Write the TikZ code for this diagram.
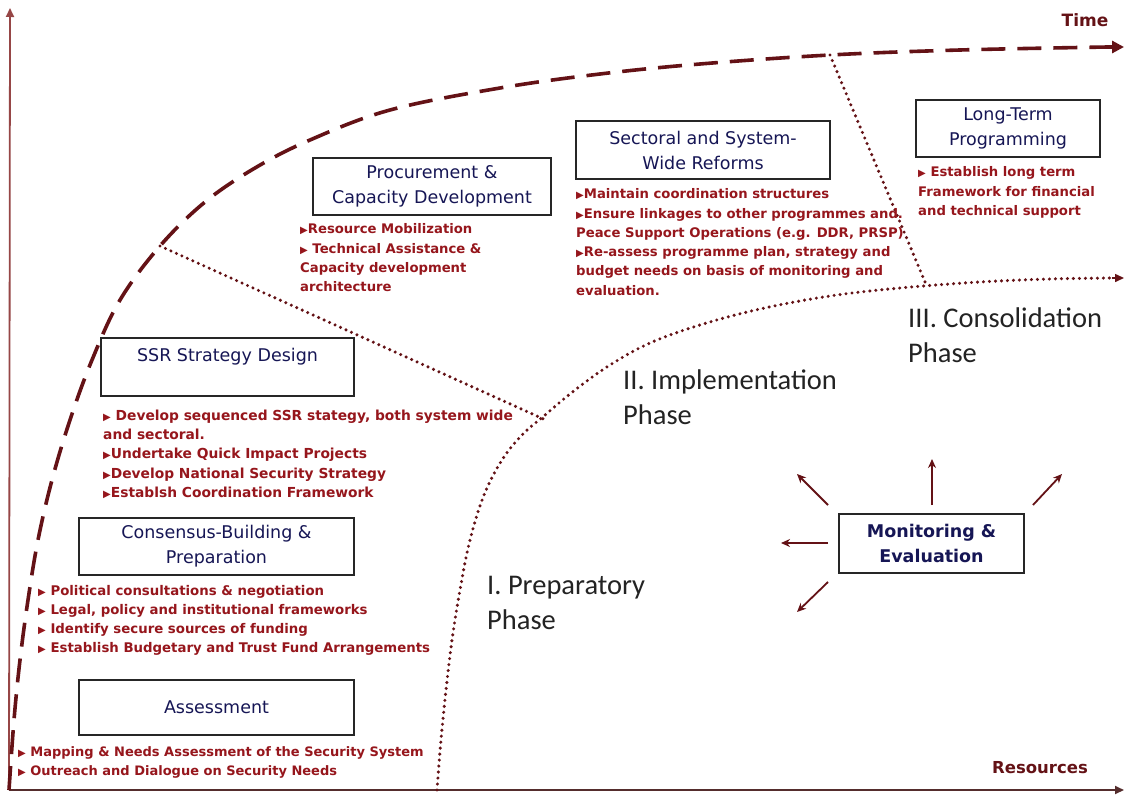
\documentclass[tikz,border=0pt]{standalone}
\usepackage{fontspec}
\setmainfont{DejaVu Sans}
\newfontfamily\calfont{Carlito}
\usetikzlibrary{arrows.meta}
\definecolor{curvecol}{RGB}{100,18,22}
\definecolor{redtext}{RGB}{150,22,28}
\definecolor{navytext}{RGB}{22,22,85}
\definecolor{phasecol}{RGB}{35,35,35}
\definecolor{vaxis}{RGB}{150,70,70}
\definecolor{haxis}{RGB}{85,45,45}
\newcommand{\tri}{{\fontsize{10}{10}\selectfont▶}}
\tikzset{
  titlebox/.style={draw=black!85, line width=1.3pt, fill=white, inner sep=0pt,
    align=center, text=navytext, font=\fontsize{17.5}{25}\selectfont},
  redtxt/.style={text=redtext, align=left, inner sep=0pt, anchor=north west,
    font=\bfseries\fontsize{13.2}{19.3}\selectfont},
  phase/.style={text=phasecol, align=left, inner sep=0pt, anchor=north west,
    font=\calfont\fontsize{28.5}{35}\selectfont},
  dotline/.style={draw=curvecol, line width=3.4pt, dash pattern=on 0pt off 6pt, line cap=round},
  timecurve/.style={draw=curvecol, line width=3.6pt, dash pattern=on 24pt off 12pt},
  mearrow/.style={draw=curvecol, line width=1.8pt, -{Stealth[length=9pt,width=8pt]}},
  axislbl/.style={text=curvecol, inner sep=0pt, font=\bfseries\fontsize{17}{20}\selectfont}
}
\begin{document}
\begin{tikzpicture}[x=1pt,y=-1pt]
\useasboundingbox[fill=white] (0,0) rectangle (1126,797);

% axes
\coordinate (O) at (9,790);
\coordinate (Ytop) at (10,8);
\coordinate (Xend) at (1124,790);
\draw[vaxis, line width=1.8pt, -{Triangle[length=9pt,width=8pt]}] (O) -- (Ytop);
\draw[haxis, line width=1.8pt, -{Triangle[length=9pt,width=8pt]}] (O) -- (Xend);

% time curve (dashed)
\draw[timecurve] plot[smooth, tension=0.6] coordinates {
 (9,790) (14,720) (20,660) (28,600) (38,540) (52,480) (70,420) (92,360)
 (120,300) (160,246) (205,202) (255,168) (310,140) (390,110) (500,88)
 (600,74) (700,64) (830,55) (960,50) (1108,47)};
\coordinate (Ttip) at (1124,47);
\coordinate (Tpre) at (1106,47);
\draw[curvecol, line width=3.5pt, -{Triangle[length=12pt,width=12pt]}] (Tpre) -- (Ttip);

% phase boundary curve (dotted)
\draw[dotline] plot[smooth, tension=0.6] coordinates {
 (437,790) (441,740) (446,690) (452,640) (460,590) (470,540) (484,495)
 (502,460) (522,435) (545,415) (575,390) (610,365) (650,343) (700,325)
 (760,309) (830,296) (900,288) (980,282) (1050,279) (1112,278)};
\coordinate (Ptip) at (1124,278);
\coordinate (Ppre) at (1112,278);
\draw[curvecol, line width=1.5pt, -{Triangle[length=9pt,width=8pt]}] (Ppre) -- (Ptip);

% dotted dividers
\coordinate (D1a) at (160,246);
\coordinate (D1b) at (548,421);
\coordinate (D2a) at (830,55);
\coordinate (D2b) at (925,282);
\draw[dotline] (D1a) -- (D1b);
\draw[dotline] (D2a) -- (D2b);

% axis labels
\node[axislbl] (time) at (1085,20) {Time};
\node[axislbl, font=\bfseries\fontsize{16.5}{20}\selectfont] (res) at (1040,768) {Resources};

% boxes
\node[titlebox, minimum width=238pt, minimum height=57pt] (proc) at (432,186.5) {Procurement \&\\Capacity Development};
\node[titlebox, minimum width=254pt, minimum height=58pt] (sect) at (703,150) {Sectoral and System-\\Wide Reforms};
\node[titlebox, minimum width=184pt, minimum height=57pt] (long) at (1008,128.5) {Long-Term\\Programming};
\node[titlebox, minimum width=253pt, minimum height=58pt] (ssr) at (227.5,367) {SSR Strategy Design\\\mbox{}};
\node[titlebox, minimum width=275pt, minimum height=57pt] (cons) at (216.5,546.5) {Consensus-Building \&\\Preparation};
\node[titlebox, minimum width=275pt, minimum height=55pt] (assess) at (216.5,707.5) {Assessment};
\node[titlebox, minimum width=185pt, minimum height=59pt, font=\bfseries\fontsize{17.5}{25}\selectfont] (me) at (931.5,543.5) {Monitoring \&\\Evaluation};

% red text blocks
\node[redtxt] (proctxt) at (300,223.5) {\tri Resource Mobilization\\\tri{} Technical Assistance \&\\Capacity development\\architecture};
\node[redtxt] (secttxt) at (576,188.5) {\tri Maintain coordination structures\\\tri Ensure linkages to other programmes and.\\Peace Support Operations (e.g. DDR, PRSP)\\\tri Re-assess programme plan, strategy and\\budget needs on basis of monitoring and\\evaluation.};
\node[redtxt] (longtxt) at (918,166.5) {\tri{} Establish long term\\Framework for financial\\and technical support};
\node[redtxt, font=\bfseries\fontsize{13.8}{19.3}\selectfont] (ssrtxt) at (103,409.5) {\tri{} Develop sequenced SSR stategy, both system wide\\and sectoral.\\\tri Undertake Quick Impact Projects\\\tri Develop National Security Strategy\\\tri Establsh Coordination Framework};
\node[redtxt, font=\bfseries\fontsize{13.3}{18.8}\selectfont] (constxt) at (38,585.5) {\tri{} Political consultations \& negotiation\\\tri{} Legal, policy and institutional frameworks\\\tri{} Identify secure sources of funding\\\tri{} Establish Budgetary and Trust Fund Arrangements};
\node[redtxt, font=\bfseries\fontsize{13}{19}\selectfont] (assesstxt) at (18,746.5) {\tri{} Mapping \& Needs Assessment of the Security System\\\tri{} Outreach and Dialogue on Security Needs};

% phase labels
\node[phase] (ph1) at (487,576) {I. Preparatory\\Phase};
\node[phase] (ph2) at (623,370) {II. Implementation\\Phase};
\node[phase] (ph3) at (908,308) {III. Consolidation\\Phase};

% monitoring arrows
\coordinate (aUL) at (828,505); \coordinate (hUL) at (797,474);
\coordinate (aU) at (932,505);  \coordinate (hU) at (932,459);
\coordinate (aUR) at (1033,505); \coordinate (hUR) at (1062,474);
\coordinate (aL) at (828,543);  \coordinate (hL) at (781,543);
\coordinate (aDL) at (828,582); \coordinate (hDL) at (797,612);
\draw[mearrow] (aUL) -- (hUL);
\draw[mearrow] (aU) -- (hU);
\draw[mearrow] (aUR) -- (hUR);
\draw[mearrow] (aL) -- (hL);
\draw[mearrow] (aDL) -- (hDL);
\end{tikzpicture}
\end{document}
